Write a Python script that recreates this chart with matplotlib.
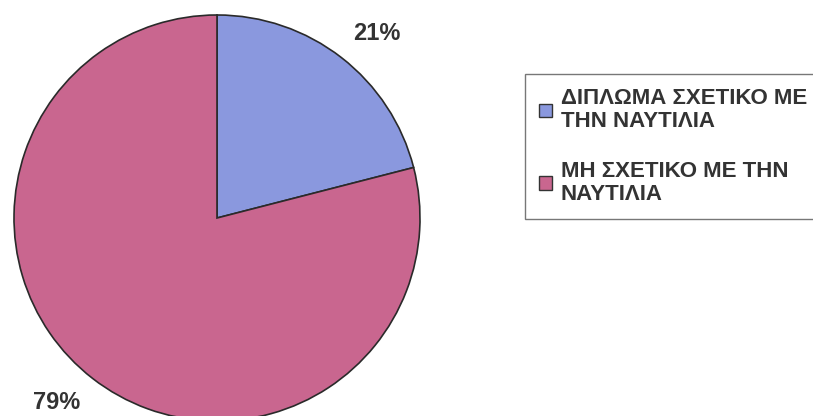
import matplotlib.pyplot as plt
import matplotlib.patches as patches

# Κατανομή πτυχίων
categories = ["ΔΙΠΛΩΜΑ ΣΧΕΤΙΚΟ ΜΕ\nΤΗΝ ΝΑΥΤΙΛΙΑ", "ΜΗ ΣΧΕΤΙΚΟ ΜΕ ΤΗΝ\nΝΑΥΤΙΛΙΑ"]
shares = [21, 79]
colors = ["#8a98de", "#c9668f"]

plt.rcParams['font.family'] = ['Liberation Sans', 'DejaVu Sans']
text_color = '#333333'

fig = plt.figure(figsize=(8.13, 4.16), dpi=100)
W, H = 813, 416

# pie centre ~ (217, 218) px, radius ~203 px
cx, cy, r = 217, 218, 203
ax = fig.add_axes([(cx - r) / W, (H - cy - r) / H, 2 * r / W, 2 * r / H])

wedges, _, pct = ax.pie(shares, colors=colors, startangle=90, counterclock=False,
                        radius=1.0, autopct='%1.0f%%', pctdistance=1.2,
                        wedgeprops=dict(edgecolor='#2a2a2a', linewidth=1.2))
ax.set_xlim(-1, 1)
ax.set_ylim(-1, 1)
ax.axis('off')

# small nudges so the percentages sit a bit off the bisector
nudges = [(0.05, -0.04), (-0.055, 0.04)]
for t, (dx, dy) in zip(pct, nudges):
    x, y = t.get_position()
    t.set_position((x + dx, y + dy))
    t.set_fontsize(17)
    t.set_fontweight('bold')
    t.set_color(text_color)
    t.set_clip_on(False)

handles = [patches.Patch(facecolor=c, edgecolor='#333333', linewidth=1.0) for c in colors]
leg = fig.legend(handles, categories, loc='upper left',
                 bbox_to_anchor=(525 / W, (H - 74) / H),
                 frameon=True, fancybox=False, edgecolor='#555555',
                 prop=dict(size=16, weight='bold'),
                 handlelength=0.55, handleheight=0.55, handletextpad=0.4,
                 labelspacing=1.3, borderpad=0.65, borderaxespad=0)
leg.get_frame().set_linewidth(1.0)
for t in leg.get_texts():
    t.set_color(text_color)
    t.set_linespacing(1.1)

fig.savefig('out.png', dpi=100)
